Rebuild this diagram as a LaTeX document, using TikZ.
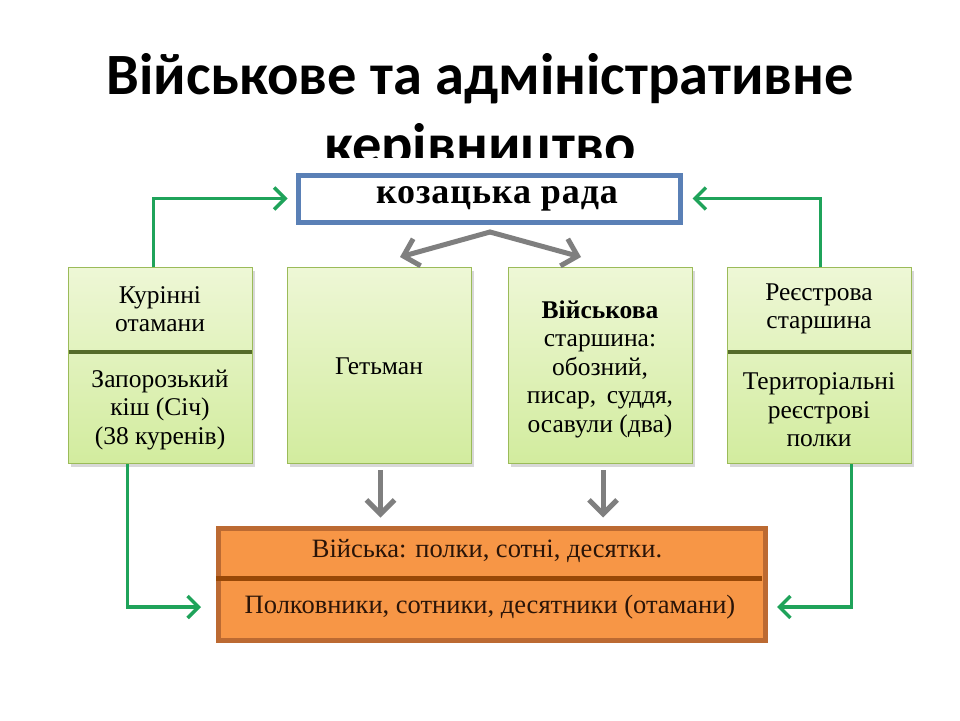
\documentclass[tikz,border=0pt]{standalone}
\usepackage{fontspec}
\setmainfont{Liberation Serif}
\newfontfamily\titlefont{Carlito}
\usetikzlibrary{shadows,arrows.meta}
\definecolor{grtop}{HTML}{EEF7D6}
\definecolor{grbot}{HTML}{D2EC9E}
\definecolor{grbord}{HTML}{9BBB59}
\definecolor{grdiv}{HTML}{556B2A}
\definecolor{bluebord}{HTML}{5A80B6}
\definecolor{orfill}{HTML}{F79646}
\definecolor{orbord}{HTML}{BC6A32}
\definecolor{ordiv}{HTML}{984807}
\definecolor{arrgreen}{HTML}{1FA35A}
\definecolor{arrgray}{HTML}{7F7F7F}
\definecolor{ortext}{HTML}{2A1408}
\begin{document}
\begin{tikzpicture}[x=1pt,y=-1pt,
  gbox/.style={draw=grbord, line width=1pt, top color=grtop, bottom color=grbot,
    minimum width=184pt, minimum height=196pt, anchor=north west, inner sep=0pt,
    drop shadow={shadow xshift=2pt, shadow yshift=-3pt, opacity=0.3}},
  gtext/.style={font=\fontsize{25.5}{28.5}\selectfont, align=center, inner sep=0pt},
  otext/.style={font=\fontsize{26.5}{30}\selectfont, text=ortext, inner sep=0pt},
  garr/.style={draw=arrgreen, line width=3.5pt, -{Straight Barb[length=11pt,width=22pt]}},
  grarr/.style={draw=arrgray, line width=5pt, -{Straight Barb[length=14pt,width=28pt]}},
  divline/.style={line width=4.5pt},
]
\useasboundingbox (0,0) rectangle (960,720);
\fill[white] (0,0) rectangle (960,720);
% title
\node[anchor=base, font=\titlefont\bfseries\fontsize{58.5}{70}\selectfont, inner sep=0pt] (t1) at (480,94) {Військове та адміністративне};
\begin{scope}
\clip (0,0) rectangle (960,157);
\node[anchor=base, font=\titlefont\bfseries\fontsize{58.5}{70}\selectfont, inner sep=0pt] (t2) at (480,164) {керівництво};
\end{scope}
% top box
\node[draw=bluebord, line width=5pt, fill=white, anchor=north west, minimum width=382pt, minimum height=47pt, inner sep=0pt] (rada) at (295.5,172.5) {};
\node[anchor=base, font=\bfseries\fontsize{36}{40}\selectfont\addfontfeature{LetterSpace=2.5}, inner sep=0pt] (radat) at (497,203) {козацька рада};
% green boxes
\node[gbox] (k1) at (68,267) {};
\node[gbox] (k2) at (287,267) {};
\node[gbox] (k3) at (508,267) {};
\node[gbox] (k4) at (727,267) {};
\draw[divline, draw=grdiv] (68.5,352) -- (251.5,352);
\draw[divline, draw=grdiv] (727.5,352) -- (910.5,352);
\node[gtext] (k1a) at (160,309) {Курінні\\отамани};
\node[gtext] (k1b) at (160,410) {Запорозький\\кіш (Січ)\\(38 куренів)};
\node[gtext] (k2a) at (379,366) {Гетьман};
\node[gtext] (k3a) at (600,369) {\textbf{Військова}\\старшина:\\обозний,\\писар, \,суддя,\\осавули (два)};
\node[gtext] (k4a) at (819,309) {Реєстрова\\старшина};
\node[gtext] (k4b) at (819,410) {Територіальні\\реєстрові\\полки};
% orange box
\node[draw=orbord, line width=5pt, fill=orfill, anchor=north west, minimum width=547pt, minimum height=112pt, inner sep=0pt,
  drop shadow={shadow xshift=1.5pt, shadow yshift=-2pt, opacity=0.25}] (ob) at (215.5,525.5) {};
\draw[divline, draw=ordiv, line width=5pt] (216,578) -- (762,578);
\node[otext] (oba) at (487,551) {Війська: полки, сотні, десятки.};
\node[otext] (obb) at (490,607) {Полковники, сотники, десятники (отамани)};
% gray arrows
\coordinate (apex) at (490,232);
\coordinate (gl) at (400,257);
\coordinate (gr) at (581,257);
\draw[grarr, line cap=round, line join=round] (apex) -- (gl);
\draw[grarr, line cap=round, line join=round] (apex) -- (gr);
\draw[grarr] ([xshift=1pt,yshift=-6pt]k2.south) -- ([xshift=1pt,yshift=8pt]ob.north -| k2.south);
\draw[grarr] ([xshift=2.5pt,yshift=-6pt]k3.south) -- ([xshift=2.5pt,yshift=8pt]ob.north -| k3.south);
% green arrows
\coordinate (obl) at (201,607);
\coordinate (obr) at (777,607);
\draw[garr] ([xshift=-7pt]k1.north) |- ([xshift=-8pt]rada.west);
\draw[garr] ([xshift=1pt]k4.north) |- ([xshift=10pt]rada.east);
\draw[garr] ([xshift=-33pt]k1.south) |- (obl);
\draw[garr] ([xshift=32pt]k4.south) |- (obr);
\end{tikzpicture}
\end{document}
